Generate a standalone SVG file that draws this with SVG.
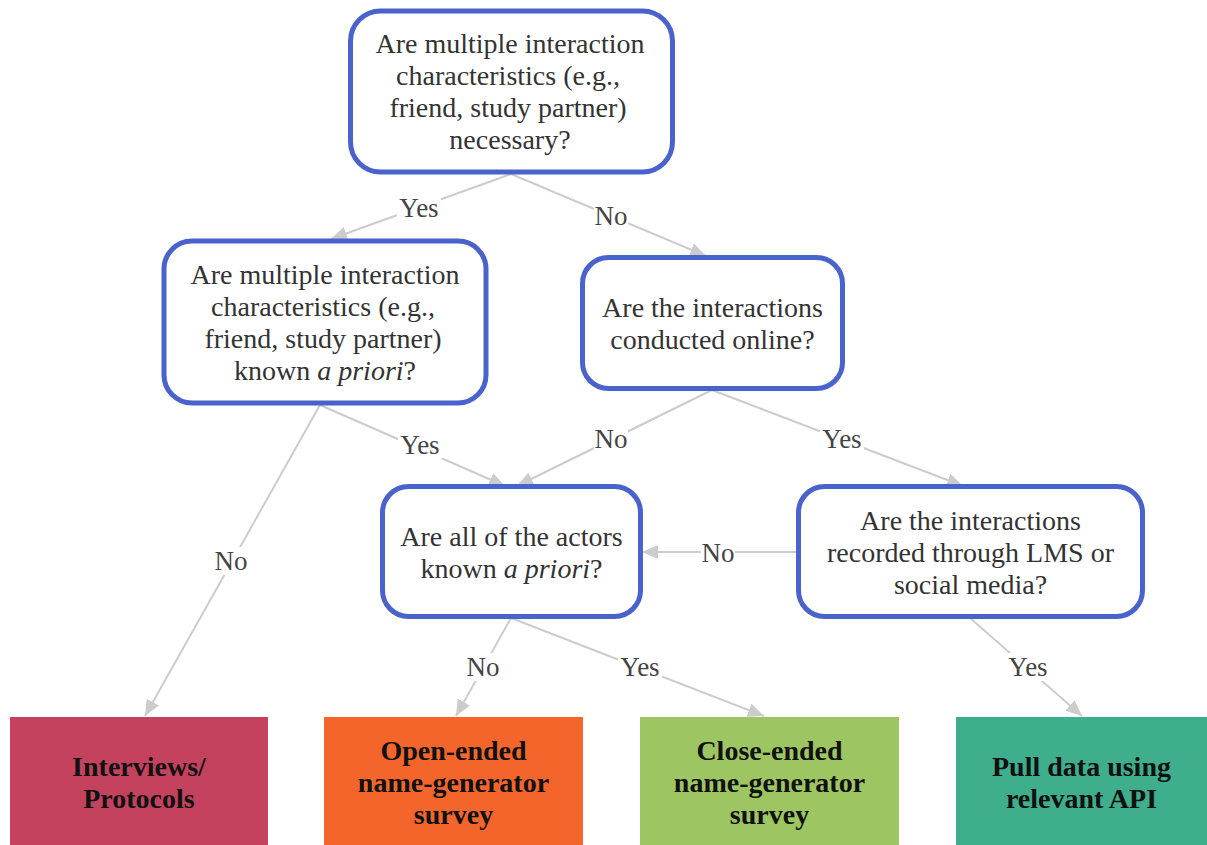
<svg xmlns="http://www.w3.org/2000/svg" width="1207" height="845" viewBox="0 0 1207 845">
<defs>
<style>
.q{fill:#ffffff;stroke:#4a62cc;stroke-width:5}
.c{fill:none;stroke:#cccccc;stroke-width:2}
</style>
<marker id="ah" markerUnits="userSpaceOnUse" markerWidth="16" markerHeight="14" refX="16" refY="7" orient="auto">
<path d="M0,0 L16,7 L0,14 z" fill="#cccccc"/>
</marker>
</defs>
<rect width="1207" height="845" fill="#ffffff"/>
<g id="connectors" marker-end="url(#ah)">
<line class="c" x1="511" y1="174" x2="331" y2="239" marker-end="url(#ah)"/>
<line class="c" x1="511" y1="174" x2="706" y2="256" marker-end="url(#ah)"/>
<line class="c" x1="320" y1="405" x2="145" y2="716" marker-end="url(#ah)"/>
<line class="c" x1="320" y1="405" x2="505" y2="486" marker-end="url(#ah)"/>
<line class="c" x1="712" y1="390" x2="517" y2="486" marker-end="url(#ah)"/>
<line class="c" x1="712" y1="390" x2="963" y2="486" marker-end="url(#ah)"/>
<line class="c" x1="797" y1="552" x2="642" y2="552" marker-end="url(#ah)"/>
<line class="c" x1="511" y1="618" x2="456" y2="716" marker-end="url(#ah)"/>
<line class="c" x1="511" y1="618" x2="764" y2="716" marker-end="url(#ah)"/>
<line class="c" x1="970" y1="618" x2="1082" y2="716" marker-end="url(#ah)"/>
</g>
<g id="labels">
<rect x="397" y="194" width="44" height="28" fill="#ffffff"/><text font-family="Liberation Serif, serif" font-size="27" fill="#444444" text-anchor="middle" x="419" y="217">Yes</text>
<rect x="594" y="202" width="34" height="28" fill="#ffffff"/><text font-family="Liberation Serif, serif" font-size="27" fill="#444444" text-anchor="middle" x="611" y="225">No</text>
<rect x="209" y="547" width="44" height="28" fill="#ffffff"/><text font-family="Liberation Serif, serif" font-size="27" fill="#444444" text-anchor="middle" x="231" y="570">No</text>
<rect x="398" y="431" width="44" height="28" fill="#ffffff"/><text font-family="Liberation Serif, serif" font-size="27" fill="#444444" text-anchor="middle" x="420" y="454">Yes</text>
<rect x="594" y="425" width="34" height="28" fill="#ffffff"/><text font-family="Liberation Serif, serif" font-size="27" fill="#444444" text-anchor="middle" x="611" y="448">No</text>
<rect x="820" y="425" width="44" height="28" fill="#ffffff"/><text font-family="Liberation Serif, serif" font-size="27" fill="#444444" text-anchor="middle" x="842" y="448">Yes</text>
<rect x="701" y="539" width="34" height="28" fill="#ffffff"/><text font-family="Liberation Serif, serif" font-size="27" fill="#444444" text-anchor="middle" x="718" y="562">No</text>
<rect x="466" y="653" width="34" height="28" fill="#ffffff"/><text font-family="Liberation Serif, serif" font-size="27" fill="#444444" text-anchor="middle" x="483" y="676">No</text>
<rect x="618" y="653" width="44" height="28" fill="#ffffff"/><text font-family="Liberation Serif, serif" font-size="27" fill="#444444" text-anchor="middle" x="640" y="676">Yes</text>
<rect x="1006" y="653" width="44" height="28" fill="#ffffff"/><text font-family="Liberation Serif, serif" font-size="27" fill="#444444" text-anchor="middle" x="1028" y="676">Yes</text>
</g>
<g id="n1">
<rect class="q" x="350.5" y="11" width="322" height="161" rx="30"/>
<text font-family="Liberation Serif, serif" font-size="28" fill="#333333" text-anchor="middle" x="510" y="53">Are multiple interaction</text>
<text font-family="Liberation Serif, serif" font-size="28" fill="#333333" text-anchor="middle" x="508" y="85">characteristics (e.g.,</text>
<text font-family="Liberation Serif, serif" font-size="28" fill="#333333" text-anchor="middle" x="508" y="117">friend, study partner)</text>
<text font-family="Liberation Serif, serif" font-size="28" fill="#333333" text-anchor="middle" x="510" y="149">necessary?</text>
</g>
<g id="n2">
<rect class="q" x="164" y="241" width="322" height="162" rx="28"/>
<text font-family="Liberation Serif, serif" font-size="28" fill="#333333" text-anchor="middle" x="325" y="284">Are multiple interaction</text>
<text font-family="Liberation Serif, serif" font-size="28" fill="#333333" text-anchor="middle" x="323" y="316">characteristics (e.g.,</text>
<text font-family="Liberation Serif, serif" font-size="28" fill="#333333" text-anchor="middle" x="323" y="348">friend, study partner)</text>
<text font-family="Liberation Serif, serif" font-size="28" fill="#333333" text-anchor="middle" x="325" y="380">known <tspan font-style="italic">a priori</tspan>?</text>
</g>
<g id="n3">
<rect class="q" x="582.5" y="257.5" width="260" height="131" rx="26"/>
<text font-family="Liberation Serif, serif" font-size="28" fill="#333333" text-anchor="middle" x="712.5" y="317">Are the interactions</text>
<text font-family="Liberation Serif, serif" font-size="28" fill="#333333" text-anchor="middle" x="712.5" y="349">conducted online?</text>
</g>
<g id="n4">
<rect class="q" x="382.5" y="486.5" width="258" height="130" rx="26"/>
<text font-family="Liberation Serif, serif" font-size="28" fill="#333333" text-anchor="middle" x="511.5" y="546">Are all of the actors</text>
<text font-family="Liberation Serif, serif" font-size="28" fill="#333333" text-anchor="middle" x="511.5" y="578">known <tspan font-style="italic">a priori</tspan>?</text>
</g>
<g id="n5">
<rect class="q" x="798.5" y="486.5" width="344" height="130" rx="26"/>
<text font-family="Liberation Serif, serif" font-size="28" fill="#333333" text-anchor="middle" x="970.5" y="530">Are the interactions</text>
<text font-family="Liberation Serif, serif" font-size="28" fill="#333333" text-anchor="middle" x="970.5" y="562">recorded through LMS or</text>
<text font-family="Liberation Serif, serif" font-size="28" fill="#333333" text-anchor="middle" x="970.5" y="594">social media?</text>
</g>
<g id="o1">
<rect x="10" y="717" width="258" height="128" fill="#c5425f"/>
<text font-family="Liberation Serif, serif" font-size="28" font-weight="bold" fill="#111111" text-anchor="middle" x="139" y="776">Interviews/</text>
<text font-family="Liberation Serif, serif" font-size="28" font-weight="bold" fill="#111111" text-anchor="middle" x="139" y="808">Protocols</text>
</g>
<g id="o2">
<rect x="324" y="717" width="259" height="128" fill="#f4652c"/>
<text font-family="Liberation Serif, serif" font-size="28" font-weight="bold" fill="#111111" text-anchor="middle" x="453.5" y="760">Open-ended</text>
<text font-family="Liberation Serif, serif" font-size="28" font-weight="bold" fill="#111111" text-anchor="middle" x="453.5" y="792">name-generator</text>
<text font-family="Liberation Serif, serif" font-size="28" font-weight="bold" fill="#111111" text-anchor="middle" x="453.5" y="824">survey</text>
</g>
<g id="o3">
<rect x="640" y="717" width="259" height="128" fill="#9dc662"/>
<text font-family="Liberation Serif, serif" font-size="28" font-weight="bold" fill="#111111" text-anchor="middle" x="769.5" y="760">Close-ended</text>
<text font-family="Liberation Serif, serif" font-size="28" font-weight="bold" fill="#111111" text-anchor="middle" x="769.5" y="792">name-generator</text>
<text font-family="Liberation Serif, serif" font-size="28" font-weight="bold" fill="#111111" text-anchor="middle" x="769.5" y="824">survey</text>
</g>
<g id="o4">
<rect x="956" y="717" width="251" height="128" fill="#3eae8c"/>
<text font-family="Liberation Serif, serif" font-size="28" font-weight="bold" fill="#111111" text-anchor="middle" x="1081.5" y="776">Pull data using</text>
<text font-family="Liberation Serif, serif" font-size="28" font-weight="bold" fill="#111111" text-anchor="middle" x="1081.5" y="808">relevant API</text>
</g>
</svg>
